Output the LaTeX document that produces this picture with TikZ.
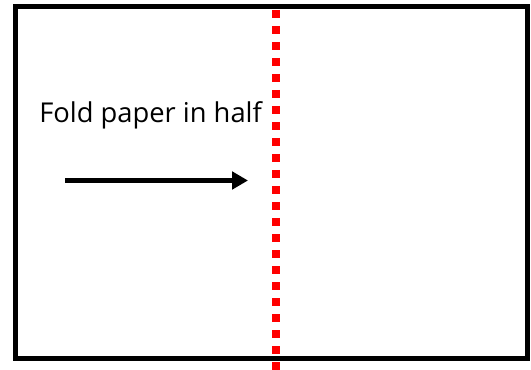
\documentclass[tikz,border=0pt]{standalone}
\usepackage{fontspec}
\setmainfont{Open Sans}
\usetikzlibrary{arrows.meta}
\begin{document}
\begin{tikzpicture}[x=0.75pt,y=-0.75pt,
  paper/.style={draw=black,line width=3.75pt},
  foldline/.style={draw=red,line width=6pt,dash pattern=on 6pt off 6pt},
  arr/.style={draw=black,line width=3.5pt,-{Triangle[length=12pt,width=13pt]}},
  lbl/.style={inner sep=0pt,font=\fontsize{20.5pt}{24pt}\selectfont}]
\useasboundingbox (0,0) rectangle (531,370);
\draw[paper] (15,7) rectangle (527.5,358.5);
\coordinate (ftop) at (276,10);
\coordinate (fbot) at (276,370);
\draw[foldline] (ftop) -- (fbot);
\coordinate (as) at (65,180.5);
\coordinate (ae) at (248,180.5);
\draw[arr] (as) -- (ae);
\node[lbl,anchor=base west] (t) at (39,122.3) {Fold paper in half};
\end{tikzpicture}
\end{document}
